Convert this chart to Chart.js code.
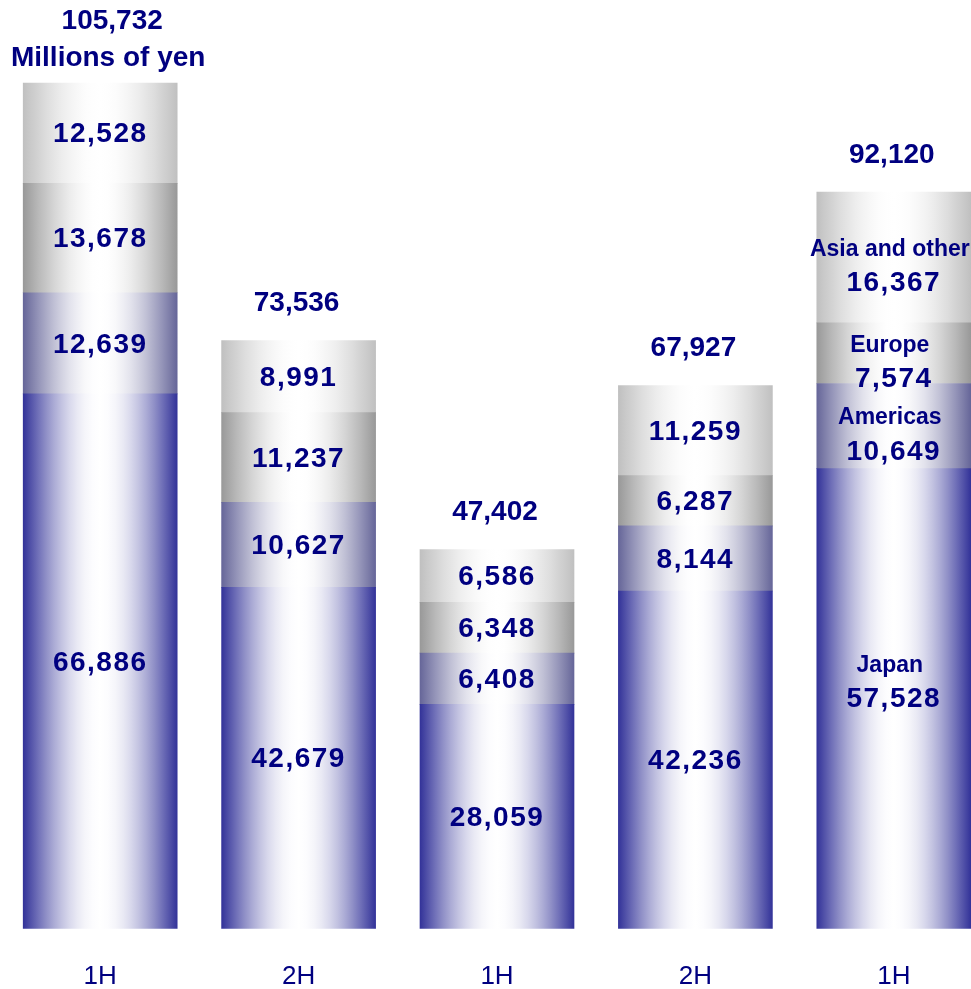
<!DOCTYPE html>
<html>
<head>
<meta charset="utf-8">
<script src="https://cdn.jsdelivr.net/npm/chart.js@4"></script>
<style>
  html, body { margin: 0; padding: 0; background: #ffffff; }
  #wrap { width: 971px; height: 989px; overflow: hidden; position: relative; }
  canvas { display: block; }
</style>
</head>
<body>
<div id="wrap">
  <canvas id="salesChart" width="993" height="1024"></canvas>
</div>
<script>
// Net sales by region (millions of yen)
const categories = ['1H', '2H', '1H', '2H', '1H'];
const japan    = [66886, 42679, 28059, 42236, 57528];
const americas = [12639, 10627, 6408, 8144, 10649];
const europe   = [13678, 11237, 6348, 6287, 7574];
const asia     = [12528, 8991, 6586, 11259, 16367];
const totals   = [105732, 73536, 47402, 67927, 92120];
const regionNames = ['Japan', 'Americas', 'Europe', 'Asia and other'];
const unitLabel = 'Millions of yen';

const NAVY = '#000080';
const BAR_W = 154;

// horizontal "cylinder" shading: coloured edges, white centre
function shade(rgb) {
  const edge = `rgb(${rgb.join(',')})`;
  return (c) => {
    const chart = c.chart;
    const xs = chart.scales.x;
    if (!chart.chartArea || !xs) return edge;
    const cx = xs.getPixelForValue(c.dataIndex);
    const g = chart.ctx.createLinearGradient(cx - BAR_W / 2, 0, cx + BAR_W / 2, 0);
    for (let k = 0; k <= 20; k++) {
      const t = k / 20;
      const w = Math.sin(Math.PI * t); // weight of white
      const col = rgb.map(v => Math.round(v + (255 - v) * w));
      g.addColorStop(t, `rgb(${col.join(',')})`);
    }
    return g;
  };
}

const fmt = v => v.toLocaleString('en-US');

const labelPlugin = {
  id: 'segLabels',
  afterDatasetsDraw(chart) {
    const ctx = chart.ctx;
    ctx.save();
    ctx.fillStyle = NAVY;
    ctx.textAlign = 'center';
    ctx.textBaseline = 'middle';
    const last = categories.length - 1;
    chart.data.datasets.forEach((ds, di) => {
      const meta = chart.getDatasetMeta(di);
      meta.data.forEach((bar, i) => {
        const mid = (bar.y + bar.base) / 2;
        if (i === last) {
          // last column also carries the region names
          const tall = (bar.base - bar.y) > 200;
          const nameY = tall ? mid - 33 : mid - 8;
          const valY = tall ? mid + 1 : mid + 26;
          ctx.letterSpacing = '0px';
          ctx.font = 'bold 23px "Liberation Sans", Arial, sans-serif';
          ctx.fillText(regionNames[di], bar.x - 4, nameY);
          ctx.letterSpacing = '1.5px';
          ctx.font = 'bold 28px "Liberation Sans", Arial, sans-serif';
          ctx.fillText(fmt(ds.data[i]), bar.x, valY);
        } else {
          ctx.letterSpacing = '1.5px';
          ctx.font = 'bold 28px "Liberation Sans", Arial, sans-serif';
          ctx.fillText(fmt(ds.data[i]), bar.x, mid + 1.5);
        }
      });
    });
    // totals above each stack
    const topMeta = chart.getDatasetMeta(chart.data.datasets.length - 1);
    topMeta.data.forEach((bar, i) => {
      ctx.letterSpacing = '0px';
      ctx.font = 'bold 28px "Liberation Sans", Arial, sans-serif';
      if (i === 0) {
        ctx.fillText(unitLabel, bar.x + 8, bar.y - 25);
        ctx.fillText(fmt(totals[i]), bar.x + 12, bar.y - 62);
      } else {
        ctx.fillText(fmt(totals[i]), bar.x - 2, bar.y - 37);
      }
    });
    ctx.restore();
  }
};

new Chart(document.getElementById('salesChart'), {
  type: 'bar',
  data: {
    labels: categories,
    datasets: [
      { label: regionNames[0], data: japan,    backgroundColor: shade([51, 51, 153]) },
      { label: regionNames[1], data: americas, backgroundColor: shade([102, 102, 153]) },
      { label: regionNames[2], data: europe,   backgroundColor: shade([153, 153, 153]) },
      { label: regionNames[3], data: asia,     backgroundColor: shade([192, 192, 192]) }
    ]
  },
  options: {
    responsive: false,
    animation: false,
    events: [],
    layout: { padding: { left: 1, top: 1, right: 0, bottom: 0 } },
    datasets: { bar: { barThickness: BAR_W, borderWidth: 0 } },
    plugins: { legend: { display: false }, tooltip: { enabled: false } },
    scales: {
      x: {
        stacked: true,
        grid: { display: false, drawTicks: false },
        border: { display: false },
        ticks: {
          color: NAVY,
          padding: 32,
          font: { family: '"Liberation Sans Narrow", "Liberation Sans", sans-serif', size: 26 }
        }
      },
      y: {
        stacked: true,
        display: false,
        min: 0,
        max: 116000
      }
    }
  },
  plugins: [labelPlugin]
});
</script>
</body>
</html>
